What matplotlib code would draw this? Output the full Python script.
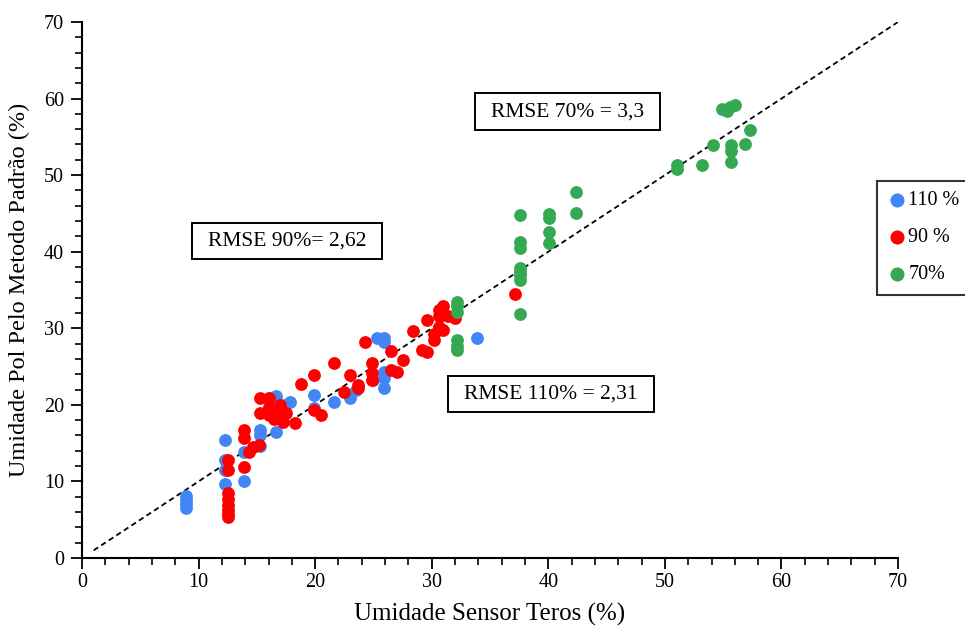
import matplotlib
matplotlib.use("Agg")
import matplotlib.pyplot as plt
from matplotlib.ticker import MultipleLocator

plt.rcParams['font.family'] = ['Liberation Serif', 'DejaVu Serif']

# 110 %
x110 = [8.9, 8.9, 8.9, 8.9, 12.3, 12.3, 12.3, 12.3, 13.9, 13.9, 15.3, 15.3, 15.3,
        16.0, 16.6, 16.6, 17.3, 17.8, 19.9, 19.9, 21.6, 23.0, 25.3, 25.9, 25.9,
        25.9, 25.9, 25.9, 25.0, 33.9, 16.2, 17.0, 23.5]
y110 = [8.1, 7.6, 7.0, 6.5, 15.4, 12.8, 11.5, 9.7, 10.1, 13.8, 16.7, 16.1, 14.6,
        20.9, 21.2, 16.4, 20.0, 20.4, 21.3, 19.6, 20.4, 20.9, 28.7, 28.7, 28.2,
        24.3, 23.5, 22.2, 23.2, 28.7, 19.3, 18.2, 22.0]

# 90 %
x90 = [12.5, 12.5, 12.5, 12.5, 12.5, 12.5, 12.5, 12.5, 13.9, 13.9, 13.9, 14.3,
       14.7, 15.2, 15.3, 15.3, 16.0, 16.0, 16.0, 17.0, 17.0, 17.5, 18.3, 18.8,
       19.9, 19.9, 20.5, 21.6, 22.5, 23.0, 23.7, 23.7, 24.3, 24.9, 24.9, 24.9,
       26.5, 26.5, 27.0, 27.5, 28.4, 29.2, 29.6, 29.6, 30.2, 30.2, 30.6, 30.6,
       30.6, 31.0, 31.0, 31.4, 32.0, 37.1, 17.2, 16.5]
y90 = [12.8, 11.5, 8.5, 7.7, 6.9, 6.3, 5.7, 5.4, 16.7, 15.7, 11.9, 13.8,
       14.5, 14.8, 20.9, 18.9, 20.9, 19.7, 18.7, 19.1, 20.0, 18.9, 17.6, 22.7,
       23.9, 19.3, 18.7, 25.5, 21.7, 23.9, 22.6, 22.2, 28.2, 25.5, 24.2, 23.2,
       27.0, 24.5, 24.3, 25.9, 29.6, 27.2, 31.1, 26.9, 28.5, 29.3, 31.6, 32.4,
       30.2, 32.9, 29.8, 31.6, 31.3, 34.5, 17.8, 18.2]

# 70 %
x70 = [32.2, 32.2, 32.2, 32.2, 32.2, 32.2, 37.6, 37.6, 37.6, 37.6, 37.6, 37.6,
       37.6, 37.6, 40.1, 40.1, 40.1, 40.1, 42.4, 42.4, 51.0, 51.0, 53.2, 54.1,
       54.9, 55.3, 55.6, 56.0, 55.7, 55.7, 55.7, 56.9, 57.3]
y70 = [33.4, 32.9, 32.1, 28.5, 27.7, 27.2, 44.8, 41.3, 40.5, 37.9, 37.4, 37.0,
       36.3, 31.9, 44.9, 44.4, 42.6, 41.1, 47.8, 45.1, 51.3, 50.8, 51.3, 53.9,
       58.6, 58.4, 58.9, 59.2, 53.9, 53.2, 51.7, 54.1, 55.9]

series = [(x110, y110, '#4285F4', '110 %'),
          (x90, y90, '#FF0000', '90 %'),
          (x70, y70, '#34A853', '70%')]

rmse_notes = [(35.1, 58.3, 'RMSE 70% = 3,3'),
              (10.8, 41.4, 'RMSE 90%= 2,62'),
              (32.8, 21.4, 'RMSE 110% = 2,31')]

fig = plt.figure(figsize=(9.65, 6.28), dpi=100)
ax = fig.add_axes([0.085, 0.1115, 0.8456, 0.8535])

for xs, ys, c, lab in series:
    ax.scatter(xs, ys, s=85, color=c, label=lab, linewidths=0, zorder=3)

ax.plot([1, 70], [1, 70], linestyle=(0, (3, 2)), color='black', lw=1.3, zorder=2)

for x, y, t in rmse_notes:
    ax.text(x, y, t, fontsize=15.5, ha='left', va='center',
            bbox=dict(boxstyle='square,pad=0.75', mutation_aspect=0.55,
                      fc='white', ec='black', lw=1.4),
            zorder=4)

ax.set_xlim(0, 70)
ax.set_ylim(0, 70)
ax.xaxis.set_major_locator(MultipleLocator(10))
ax.yaxis.set_major_locator(MultipleLocator(10))
ax.xaxis.set_minor_locator(MultipleLocator(2))
ax.yaxis.set_minor_locator(MultipleLocator(2))
ax.tick_params(which='major', direction='out', length=8, width=1.3, labelsize=14.5, pad=5)
ax.tick_params(axis='x', which='major', pad=3)
ax.tick_params(which='minor', direction='out', length=5, width=1.2)
for s in ['top', 'right']:
    ax.spines[s].set_visible(False)
for s in ['left', 'bottom']:
    ax.spines[s].set_linewidth(1.5)

ax.set_xlabel('Umidade Sensor Teros (%)', fontsize=18, labelpad=8)
ax.set_ylabel('Umidade Pol Pelo Metodo Padrão (%)', fontsize=17.5, labelpad=10)

leg = fig.legend(loc='upper left', bbox_to_anchor=(0.909, 0.712), fontsize=14.5,
                 frameon=True, fancybox=False, edgecolor='black',
                 handletextpad=0.05, labelspacing=0.9, borderpad=0.5,
                 borderaxespad=0, handlelength=1.0, markerscale=1.1)
leg.get_frame().set_linewidth(1.5)

fig.savefig('out.png', dpi=100)
